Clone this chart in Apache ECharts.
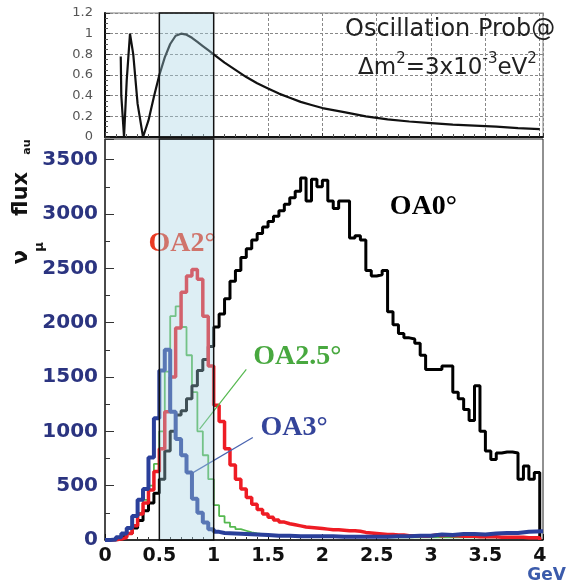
<!DOCTYPE html>
<html><head><meta charset="utf-8">
<script src="https://cdn.jsdelivr.net/npm/echarts@6/dist/echarts.min.js"></script>
<style>html,body{margin:0;padding:0;background:#fff}#c{width:568px;height:584px}</style>
</head><body><div id="c"></div>
<script>
// ---- Oscillation probability (top panel) ----
const probE = [0.145,0.15,0.175,0.2,0.23,0.26,0.3,0.35,0.4,0.45,0.5,0.55,0.6,0.65,0.7,0.75,0.8,0.85,0.9,0.95,1.0,1.1,1.2,1.3,1.4,1.5,1.6,1.7,1.8,1.9,2.0,2.2,2.4,2.6,2.8,3.0,3.2,3.4,3.6,3.8,4.0];
const probP = [0.78,0.40,0.00,0.55,1.00,0.80,0.32,0.00,0.16,0.39,0.60,0.77,0.90,0.98,1.00,0.99,0.96,0.92,0.88,0.84,0.80,0.72,0.65,0.58,0.52,0.47,0.42,0.38,0.34,0.31,0.28,0.24,0.20,0.17,0.15,0.135,0.12,0.11,0.10,0.085,0.077];

// ---- Flux histograms (bin left edges in GeV) ----
const binE = [0,0.05,0.1,0.15,0.2,0.25,0.3,0.35,0.4,0.45,0.5,0.55,0.6,0.65,0.7,0.75,0.8,0.85,0.9,0.95,1.0,1.05,1.1,1.15,1.2,1.25,1.3,1.35,1.4,1.45,1.5,1.55,1.6,1.65,1.7,1.75,1.8,1.85,1.9,1.95,2.0,2.05,2.1,2.15,2.2,2.25,2.3,2.35,2.4,2.45,2.5,2.55,2.6,2.65,2.7,2.75,2.8,2.85,2.9,2.95,3.0,3.05,3.1,3.15,3.2,3.25,3.3,3.35,3.4,3.45,3.5,3.55,3.6,3.65,3.7,3.75,3.8,3.85,3.9,3.95,4.0];
const oa0Flux = [0,0,10,30,60,110,180,270,340,430,560,820,1000,1150,1190,1300,1420,1560,1660,1780,1960,2080,2220,2380,2480,2600,2680,2760,2820,2880,2930,2980,3030,3090,3150,3210,3330,3120,3320,3250,3310,3120,3050,3120,3120,2780,2800,2760,2480,2430,2440,2480,2100,1980,1900,1860,1850,1810,1700,1570,1570,1570,1600,1600,1360,1300,1200,1100,1420,1000,820,740,800,810,810,800,560,680,560,620,0];
const oa2Flux = [0,2,8,25,60,130,240,340,460,630,840,1180,1500,1950,2280,2430,2490,2400,2060,1600,1240,1090,840,690,560,470,390,330,280,240,210,185,165,150,140,130,120,115,110,105,100,95,95,90,85,85,80,70,65,60,55,50,50,45,45,40,40,40,35,40,45,40,45,40,40,35,35,35,30,30,30,30,25,25,25,25,25,20,20,20,0];
const oa25E = [0,0.05,0.1,0.15,0.2,0.25,0.3,0.35,0.4,0.45,0.5,0.55,0.6,0.65,0.7,0.75,0.8,0.85,0.9,0.95,1.0,1.05,1.1,1.15,1.2,1.25,1.3,1.35,1.4,1.45,1.5,1.6,1.7,1.8,1.9,2.0,2.2,2.4,2.6,2.8,3.0,3.2,3.4,3.6,3.8,4.0];
const oa25Flux = [0,2,8,25,65,140,250,370,500,700,1000,1550,2060,2150,1960,1700,1360,1000,780,560,320,220,160,120,100,85,70,60,55,50,45,40,35,30,30,28,28,25,25,25,25,25,25,22,22,0];
const oa3E = [0,0.05,0.1,0.15,0.2,0.25,0.3,0.35,0.4,0.45,0.5,0.55,0.6,0.65,0.7,0.75,0.8,0.85,0.9,0.95,1.0,1.05,1.1,1.2,1.3,1.4,1.5,1.6,1.7,1.8,1.9,2.0,2.1,2.2,2.3,2.4,2.5,2.6,2.7,2.8,2.9,3.0,3.1,3.2,3.3,3.4,3.5,3.6,3.7,3.8,3.9,4.03];
const oa3Flux = [0,5,25,60,110,220,370,470,760,1120,1560,1750,1180,930,780,620,380,250,160,100,75,65,60,55,50,45,40,38,35,35,35,35,30,30,30,30,30,35,35,40,40,50,45,55,55,50,60,65,65,75,80,85];

// ---- Axis ticks / labels ----
const xTicks = [0,0.5,1,1.5,2,2.5,3,3.5,4];
const yTicksMain = [0,500,1000,1500,2000,2500,3000,3500];
const yTicksTop = [0,0.2,0.4,0.6,0.8,1,1.2];
const band = [0.5, 1.0];

const pairs = (xs, ys) => xs.map((x, i) => [x, ys[i]]);
const isTick = (arr) => (v) => arr.some(t => Math.abs(t - v) < 1e-6) ? String(+v.toFixed(2)) : '';

const labelPoint = (x, y, text, color) => ({
  symbol: 'circle', symbolSize: 1, silent: true,
  itemStyle: {color: 'rgba(0,0,0,0)'},
  data: [{coord: [x, y], label: {show: true, position: 'inside', formatter: text,
    fontFamily: 'Liberation Serif', fontWeight: 'bold', fontSize: 28, color: color}}]
});
const leader = (x1, y1, x2, y2, color) => ({
  silent: true, symbol: ['none', 'none'], label: {show: false},
  lineStyle: {color: color, width: 1.2, type: 'solid'},
  data: [[{coord: [x1, y1]}, {coord: [x2, y2]}]]
});

const chart = echarts.init(document.getElementById('c'), null, {renderer: 'canvas'});
const bandStyle = {color: 'rgba(165,210,225,0.38)', borderColor: '#111', borderWidth: 1.5};

chart.setOption({
  animation: false,
  grid: [
    {left: 105, width: 438, top: 13, height: 124, show: true, borderColor: '#aaa', borderWidth: 1.5},
    {left: 105, width: 438, top: 139, height: 401, show: true, borderColor: '#222', borderWidth: 1}
  ],
  xAxis: [
    {gridIndex: 0, type: 'value', min: 0, max: 4.03, interval: 0.5,
      axisLine: {lineStyle: {color: '#111', width: 2}},
      axisTick: {inside: true, length: 4, lineStyle: {color: '#333'}},
      minorTick: {show: true, splitNumber: 5, length: 3, lineStyle: {color: '#555'}},
      axisLabel: {show: false},
      splitLine: {show: true, lineStyle: {color: '#888', type: [3, 2], width: 1}}},
    {gridIndex: 1, type: 'value', min: 0, max: 4.03, interval: 0.5,
      axisLine: {lineStyle: {color: '#111', width: 1.5}},
      axisTick: {inside: true, length: 6, lineStyle: {color: '#111'}},
      minorTick: {show: true, splitNumber: 5, length: 3, lineStyle: {color: '#333'}},
      axisLabel: {margin: 7, color: '#111', fontWeight: 'bold', fontSize: 19, fontFamily: 'DejaVu Sans', formatter: isTick(xTicks)},
      splitLine: {show: false}}
  ],
  yAxis: [
    {gridIndex: 0, type: 'value', min: 0, max: 1.2, interval: 0.2,
      axisLine: {show: true, lineStyle: {color: '#111', width: 2}},
      axisTick: {inside: true, length: 5, lineStyle: {color: '#333'}},
      minorTick: {show: true, splitNumber: 4, length: 3, lineStyle: {color: '#555'}},
      axisLabel: {margin: 12, color: '#555', fontSize: 13, fontFamily: 'DejaVu Sans', formatter: isTick(yTicksTop)},
      splitLine: {show: true, lineStyle: {color: '#888', type: [3, 2], width: 1}}},
    {gridIndex: 1, type: 'value', min: 0, max: 3690, interval: 500,
      axisLine: {show: true, lineStyle: {color: '#333', width: 1.5}},
      axisTick: {inside: true, length: 9, lineStyle: {color: '#333'}},
      minorTick: {show: true, splitNumber: 2, length: 5, lineStyle: {color: '#333'}},
      axisLabel: {margin: 7, color: '#2b3480', fontWeight: 'bold', fontSize: 20, fontFamily: 'DejaVu Sans', formatter: isTick(yTicksMain)},
      splitLine: {show: false}}
  ],
  series: [
    {name: 'prob', type: 'line', xAxisIndex: 0, yAxisIndex: 0, data: pairs(probE, probP),
      symbol: 'none', lineStyle: {color: '#111', width: 2.2}, z: 3},
    {name: 'bandTop', type: 'line', xAxisIndex: 0, yAxisIndex: 0, data: [],
      markArea: {silent: true, z: 10, itemStyle: bandStyle, data: [[{xAxis: band[0]}, {xAxis: band[1]}]]}},
    {name: 'OA2.5', type: 'line', step: 'end', xAxisIndex: 1, yAxisIndex: 1, data: pairs(oa25E, oa25Flux),
      symbol: 'none', lineStyle: {color: '#55b84f', width: 1.8}, z: 2,
      markPoint: labelPoint(1.77, 1686, 'OA2.5°', '#48a83f'),
      markLine: leader(1.3, 1570, 0.87, 1020, '#55b84f')},
    {name: 'OA0', type: 'line', step: 'end', xAxisIndex: 1, yAxisIndex: 1, data: pairs(binE, oa0Flux),
      symbol: 'none', lineStyle: {color: '#000', width: 3}, z: 3,
      markPoint: labelPoint(2.93, 3067, 'OA0°', '#000')},
    {name: 'OA2', type: 'line', step: 'end', xAxisIndex: 1, yAxisIndex: 1, data: pairs(binE, oa2Flux),
      symbol: 'none', lineStyle: {color: '#ee1c24', width: 3.5}, z: 4,
      markPoint: labelPoint(0.71, 2726, 'OA2°', '#ea3a22')},
    {name: 'OA3', type: 'line', step: 'end', xAxisIndex: 1, yAxisIndex: 1, data: pairs(oa3E, oa3Flux),
      symbol: 'none', lineStyle: {color: '#2a3f9a', width: 4}, z: 5,
      markPoint: labelPoint(1.74, 1032, 'OA3°', '#34449a'),
      markLine: leader(1.36, 943, 0.81, 620, '#4a64b0')},
    {name: 'bandMain', type: 'line', xAxisIndex: 1, yAxisIndex: 1, data: [],
      markArea: {silent: true, z: 10, itemStyle: bandStyle, data: [[{xAxis: band[0]}, {xAxis: band[1]}]]}}
  ],
  graphic: [
    {type: 'text', left: 345, top: 18, z: 20, style: {text: 'Oscillation Prob@', fontFamily: 'DejaVu Sans', fontSize: 24, fill: '#222'}},
    {type: 'text', left: 358, top: 52, z: 20, style: {
      text: '{n|Δm}{s|2}{n|=3x10}{s|-3}{n|eV}{s|2}',
      rich: {
        n: {fontFamily: 'DejaVu Sans', fontSize: 23, lineHeight: 28, fill: '#222', verticalAlign: 'bottom'},
        s: {fontFamily: 'DejaVu Sans', fontSize: 15, lineHeight: 15, fill: '#222', verticalAlign: 'top'}
      }}},
    {type: 'text', x: 22, y: 194, rotation: Math.PI / 2, z: 20, style: {text: 'flux', fontFamily: 'DejaVu Sans', fontWeight: 'bold', fontSize: 21, fill: '#111', align: 'center', verticalAlign: 'middle'}},
    {type: 'text', x: 22, y: 257, rotation: Math.PI / 2, z: 20, style: {text: 'ν', fontFamily: 'DejaVu Sans', fontWeight: 'bold', fontSize: 21, fill: '#111', align: 'center', verticalAlign: 'middle'}},
    {type: 'text', x: 40, y: 247, rotation: Math.PI / 2, z: 20, style: {text: 'μ', fontFamily: 'DejaVu Sans', fontWeight: 'bold', fontSize: 13, fill: '#111', align: 'center', verticalAlign: 'middle'}},
    {type: 'text', x: 27, y: 147, rotation: Math.PI / 2, z: 20, style: {text: 'au', fontFamily: 'DejaVu Sans', fontWeight: 'bold', fontSize: 11, fill: '#111', align: 'center', verticalAlign: 'middle'}},
    {type: 'text', right: 2, top: 567, z: 20, style: {text: 'GeV', fontFamily: 'DejaVu Sans', fontWeight: 'bold', fontSize: 17, fill: '#3b5bab'}}
  ]
});
</script>
</body></html>
